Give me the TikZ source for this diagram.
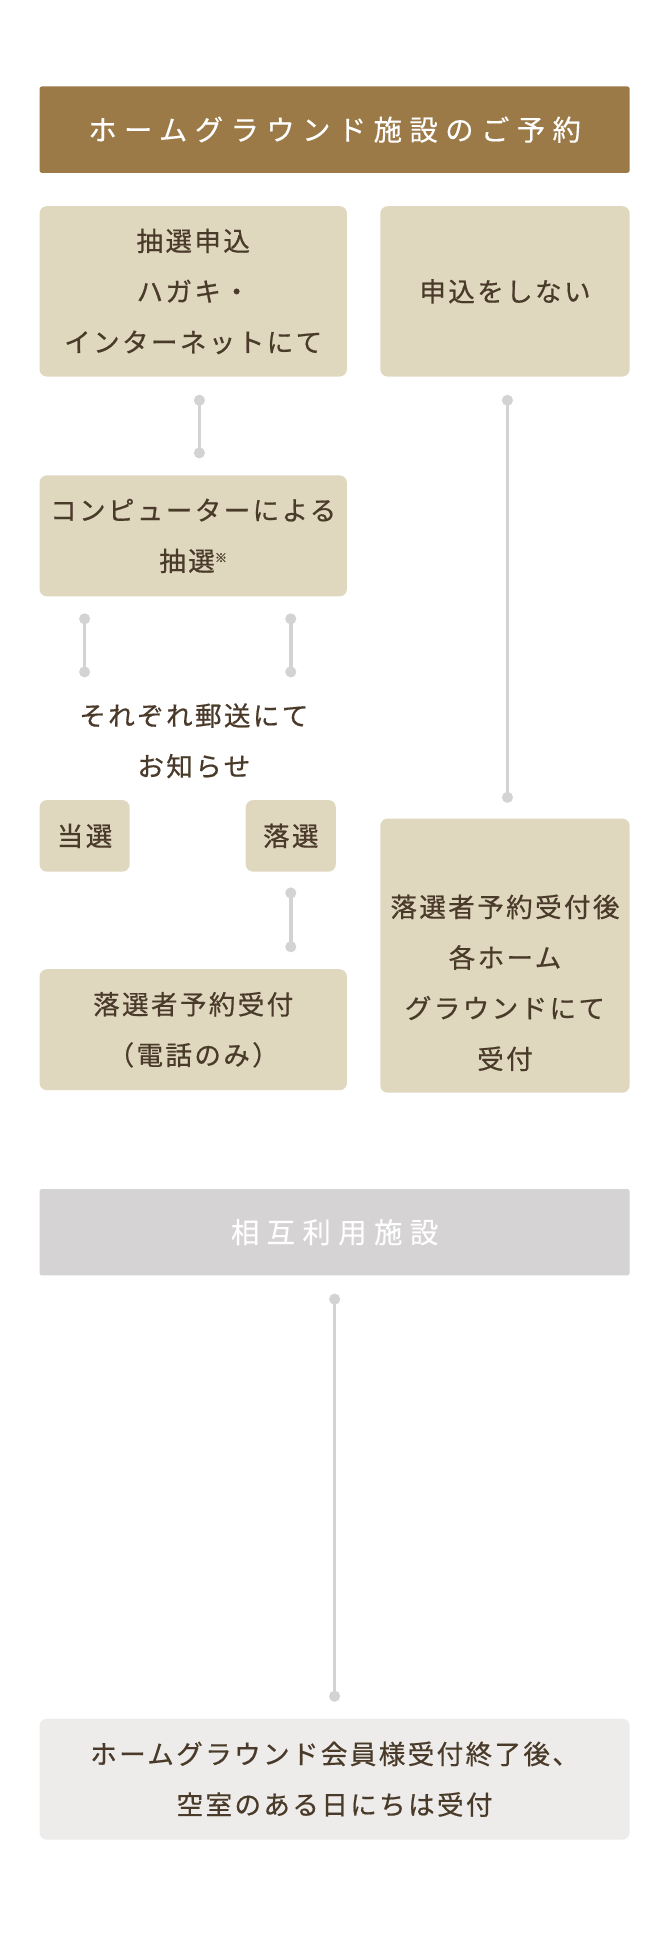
\documentclass[tikz,border=0pt]{standalone}
\usepackage{fontspec}
\newfontfamily\jphead[LetterSpace=26, FakeBold=0.3]{Noto Sans CJK JP}
\newfontfamily\jpbox[LetterSpace=9, FakeBold=0.6]{Noto Sans CJK JP}
\definecolor{headbrown}{HTML}{9C7A47}
\definecolor{boxbeige}{HTML}{DFD8BF}
\definecolor{txt}{HTML}{4A3A29}
\definecolor{conngray}{HTML}{D3D3D3}
\definecolor{headgray}{HTML}{D5D3D4}
\definecolor{lightbox}{HTML}{EDECEA}
\tikzset{
  box/.style={fill=boxbeige, rounded corners=6pt, text=txt, align=center, inner sep=0pt,
    font=\jpbox\fontsize{21.5}{41}\selectfont},
  plain/.style={text=txt, align=center, inner sep=0pt, font=\jpbox\fontsize{21.5}{41}\selectfont},
  headbar/.style={rounded corners=2pt, text=white, align=center, inner sep=0pt,
    minimum width=478pt, minimum height=70pt, font=\jphead\fontsize{23}{26}\selectfont},
  conn/.style={draw=conngray, line width=3pt},
}
\newcommand\joinline[2]{\draw[conn] (#1) -- (#2);
  \fill[conngray] (#1) circle[radius=4.5pt] (#2) circle[radius=4.5pt];}
\begin{document}
\begin{tikzpicture}[x=1pt,y=-1pt]
\useasboundingbox[fill=white] (0,0) rectangle (543,1568);
% headers
\node[headbar, fill=headbrown] (h1) at (271,105) {ホームグラウンド施設のご予約};
\node[headbar, fill=headgray] (h2) at (271,998) {相互利用施設};
% boxes
\node[box, minimum width=249pt, minimum height=138pt] (a) at (156.5,236) {抽選申込\\ハガキ・\\インターネットにて};
\node[box, minimum width=202pt, minimum height=138pt] (b) at (409,236) {申込をしない};
\node[box, minimum width=249pt, minimum height=98pt] (c) at (156.5,434) {コンピューターによる\\抽選{\fontsize{10}{10}\selectfont\raisebox{7pt}{※}}};
\node[plain] (n) at (157,600) {それぞれ郵送にて\\お知らせ};
\node[box, minimum width=73pt, minimum height=58pt] (w) at (68.5,677) {当選};
\node[box, minimum width=73pt, minimum height=58pt] (l) at (235.5,677) {落選};
\node[box, minimum width=249pt, minimum height=98pt] (lr) at (156.5,834) {落選者予約受付\\（電話のみ）};
\node[box, minimum width=202pt, minimum height=222pt] (r) at (409,774) {};
\node[plain] (rt) at ([yshift=-22pt]r.center) {落選者予約受付後\\各ホーム\\グラウンドにて\\受付};
\node[box, fill=lightbox, minimum width=478pt, minimum height=98pt] (f) at (271,1441) {ホームグラウンド会員様受付終了後、\\空室のある日にちは受付};
% connector end points
\coordinate (a1) at ([xshift=5pt,yshift=-19pt]a.south);
\coordinate (c0) at ([xshift=5pt,yshift=18pt]c.north);
\coordinate (b1) at ([xshift=2pt,yshift=-19pt]b.south);
\coordinate (r0) at ([xshift=2pt,yshift=17pt]r.north);
\coordinate (cw) at ([yshift=-18pt]c.south -| w.south);
\coordinate (nw) at ([yshift=-61pt]c.south -| w.south);
\coordinate (cl) at ([yshift=-18pt]c.south -| l.south);
\coordinate (nl) at ([yshift=-61pt]c.south -| l.south);
\coordinate (l1) at ([yshift=-17pt]l.south);
\coordinate (lr0) at ([yshift=18pt]lr.north -| l.south);
\coordinate (h21) at ([yshift=-19pt]h2.south);
\coordinate (f0) at ([yshift=18pt]f.north);
% connectors
\joinline{a1}{c0}
\joinline{b1}{r0}
\joinline{cw}{nw}
\joinline{cl}{nl}
\joinline{l1}{lr0}
\joinline{h21}{f0}
\end{tikzpicture}
\end{document}
